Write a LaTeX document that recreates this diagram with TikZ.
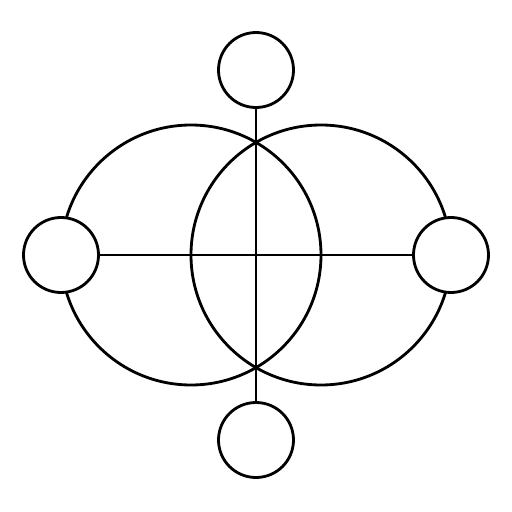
\documentclass[tikz,border=0pt]{standalone}
\usepackage{tikz}
\usetikzlibrary{positioning}

\begin{document}
\begin{tikzpicture}[line width=1.6pt,
    bigring/.style={circle, draw, inner sep=0pt, minimum size=5.2cm},
    smallring/.style={circle, draw, fill=white, inner sep=0pt, minimum size=1.5cm}]
        \useasboundingbox (-5.12,-5.14) rectangle (5.12,5.10);

        % Big circles
        \node[bigring] (leftbig) at (-1.3,0) {};
        \node[bigring] (rightbig) at (1.3,0) {};

        % Small circles
        \node[smallring] (top) at (0,3.7) {};
        \node[smallring] (bottom) at (0,-3.7) {};
        \node[smallring] (left) at (-3.9,0) {};
        \node[smallring] (right) at (3.9,0) {};

        % Cross
        \draw (top.south) -- (bottom.north);
        \draw (left.east) -- (right.west);
      \end{tikzpicture}
\end{document}
